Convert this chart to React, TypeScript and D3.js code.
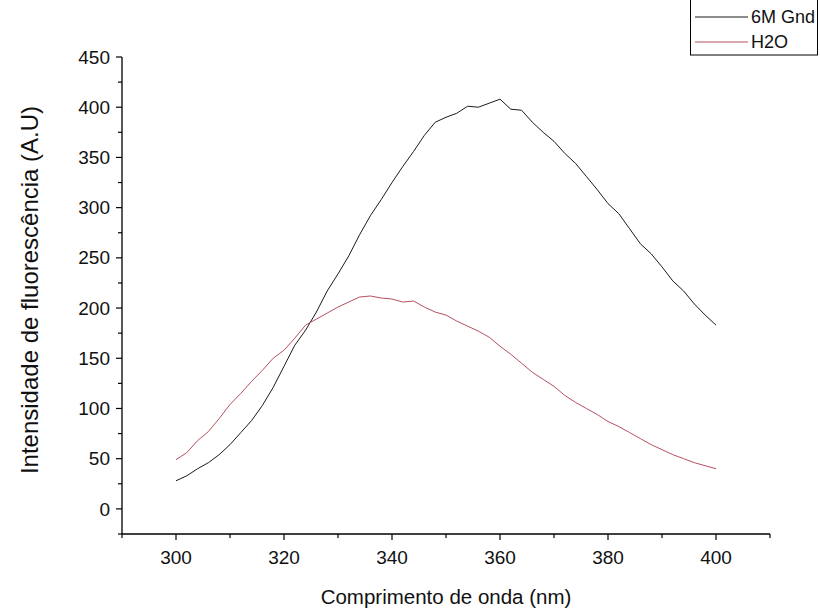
import React from "react";
import * as d3 from "d3";

const wavelengths: number[] = [
  300, 302, 304, 306, 308, 310, 312, 314, 316, 318, 320, 322, 324, 326, 328, 330, 332, 334, 336, 338,
  340, 342, 344, 346, 348, 350, 352, 354, 356, 358, 360, 362, 364, 366, 368, 370, 372, 374, 376, 378,
  380, 382, 384, 386, 388, 390, 392, 394, 396, 398, 400,
];

const gnd6M: number[] = [
  28, 33, 40, 46, 54, 64, 76, 88, 103, 121, 142, 163, 178, 196, 217, 234, 252, 273, 292, 308,
  325, 341, 356, 372, 385, 390, 394, 401, 400, 404, 408, 398, 397, 385, 375, 366, 354, 344, 331, 318,
  304, 294, 279, 264, 254, 241, 227, 217, 204, 193, 183,
];

const h2o: number[] = [
  49, 56, 68, 77, 90, 104, 115, 127, 138, 150, 158, 170, 183, 189, 195, 201, 206, 211, 212, 210,
  209, 206, 207, 201, 196, 193, 187, 182, 177, 171, 162, 154, 145, 136, 129, 122, 113, 106, 100, 94,
  87, 82, 76, 70, 64, 59, 54, 50, 46, 43, 40,
];

const xMajorTicks: number[] = [300, 320, 340, 360, 380, 400];
const xMinorTicks: number[] = [290, 310, 330, 350, 370, 390, 410];
const yMajorTicks: number[] = [0, 50, 100, 150, 200, 250, 300, 350, 400, 450];
const yMinorTicks: number[] = [-25, 25, 75, 125, 175, 225, 275, 325, 375, 425];

const seriesNames: string[] = ["6M Gnd", "H2O"];
const seriesColors: string[] = ["#1a1a1a", "#b8505e"];

const xTitle = "Comprimento de onda (nm)";
const yTitle = "Intensidade de fluorescência (A.U)";

export default function App() {
  const W = 820;
  const H = 611;
  const x = d3.scaleLinear().domain([290, 410]).range([122, 770]);
  const y = d3.scaleLinear().domain([-25, 450]).range([534, 57]);
  const font = "'Liberation Sans', Arial, sans-serif";

  const line = d3
    .line<number>()
    .x((_, i) => x(wavelengths[i]))
    .y((d) => y(d));

  const series = [gnd6M, h2o];

  return (
    <svg
      width={W}
      height={H}
      style={{ position: "absolute", left: 0, top: 0, background: "#fff" }}
      fontFamily={font}
    >
      <rect x={0} y={0} width={W} height={H} fill="#fff" />
      {/* axes */}
      <line x1={x(290)} x2={x(410)} y1={y(-25)} y2={y(-25)} stroke="#000" strokeWidth={1.3} />
      <line x1={x(290)} x2={x(290)} y1={y(-25)} y2={y(450)} stroke="#000" strokeWidth={1.3} />
      {xMajorTicks.map((t) => (
        <g key={"xm" + t}>
          <line x1={x(t)} x2={x(t)} y1={y(-25)} y2={y(-25) + 6} stroke="#000" strokeWidth={1.2} />
          <text x={x(t)} y={y(-25) + 30} textAnchor="middle" fontSize={19} fill="#111">
            {t}
          </text>
        </g>
      ))}
      {xMinorTicks.map((t) => (
        <line key={"xn" + t} x1={x(t)} x2={x(t)} y1={y(-25)} y2={y(-25) + 4} stroke="#000" strokeWidth={1.2} />
      ))}
      {yMajorTicks.map((t) => (
        <g key={"ym" + t}>
          <line x1={x(290) - 6} x2={x(290)} y1={y(t)} y2={y(t)} stroke="#000" strokeWidth={1.2} />
          <text x={x(290) - 12} y={y(t)} dy="0.35em" textAnchor="end" fontSize={19} fill="#111">
            {t}
          </text>
        </g>
      ))}
      {yMinorTicks.map((t) => (
        <line key={"yn" + t} x1={x(290) - 4} x2={x(290)} y1={y(t)} y2={y(t)} stroke="#000" strokeWidth={1.2} />
      ))}
      {/* titles */}
      <text x={446} y={604} textAnchor="middle" fontSize={20.5} fill="#111">
        {xTitle}
      </text>
      <text
        transform={`translate(38, 290) rotate(-90)`}
        textAnchor="middle"
        fontSize={24}
        fill="#111"
      >
        {yTitle}
      </text>
      {/* data */}
      {series.map((s, i) => (
        <path key={i} d={line(s) || ""} fill="none" stroke={seriesColors[i]} strokeWidth={1} />
      ))}
      {/* legend */}
      <rect x={690.5} y={-1} width={127} height={56} fill="#fff" stroke="#000" strokeWidth={1} />
      {seriesNames.map((n, i) => (
        <g key={n}>
          <line x1={695} x2={748} y1={17 + i * 25} y2={17 + i * 25} stroke={seriesColors[i]} strokeWidth={1} />
          <text x={751} y={17 + i * 25} dy="0.35em" fontSize={18} fill="#111">
            {n}
          </text>
        </g>
      ))}
    </svg>
  );
}
